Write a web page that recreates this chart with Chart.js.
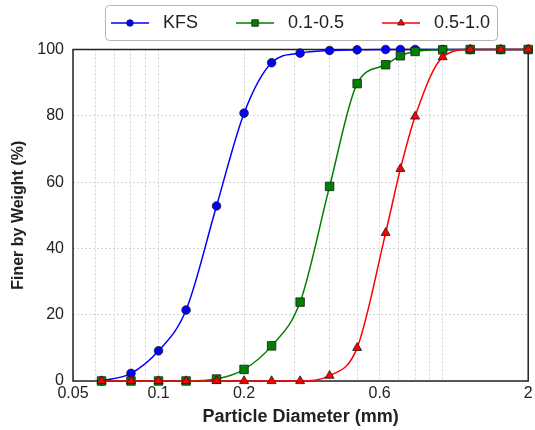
<!DOCTYPE html>
<html>
<head>
<meta charset="utf-8">
<script src="https://cdn.jsdelivr.net/npm/chart.js@4/dist/chart.umd.min.js"></script>
<style>
html, body { margin: 0; padding: 0; background: #ffffff; }
#wrap { width: 535px; height: 430px; position: relative; }
</style>
</head>
<body>
<div id="wrap"><canvas id="c"></canvas></div>
<script>
// ---- data ----
const sieveSizes   = [0.063, 0.08, 0.1, 0.125, 0.16, 0.2, 0.25, 0.315, 0.4, 0.5, 0.63, 0.71, 0.8, 1.0, 1.25, 1.6, 2.0];
const kfsValues    = [0, 2.3, 9.1, 21.4, 52.8, 80.8, 96.0, 98.9, 99.7, 99.9, 100, 100, 100, 100, 100, 100, 100];
const fineValues   = [0, 0, 0, 0, 0.6, 3.5, 10.6, 23.8, 58.7, 89.7, 95.4, 98.1, 99.4, 99.9, 100, 100, 100];
const coarseValues = [0, 0, 0, 0, 0, 0, 0, 0, 1.6, 10.0, 44.7, 64.0, 79.8, 97.7, 100, 100, 100];
const seriesNames  = ['KFS', '0.1-0.5', '0.5-1.0'];
const xGridValues  = [0.05, 0.06, 0.07, 0.08, 0.09, 0.1, 0.2, 0.3, 0.4, 0.5, 0.6, 0.7, 0.8, 0.9, 1, 2];
const xTickLabels  = [0.05, 0.1, 0.2, 0.6, 2];
const yTickValues  = [0, 20, 40, 60, 80, 100];

// ---- styles ----
const FONT = "'Liberation Sans', Arial, Helvetica, sans-serif";
Chart.defaults.font.family = FONT;
Chart.defaults.color = '#222222';

const colors = ['#0000ff', '#008000', '#ff0000'];
const styles = ['circle', 'rect', 'triangle'];
const radii  = [4.3, 6, 5.2];
const legendRadii = [3.3, 4.6, 4];
const MARKER_EDGE = '#1a1a1a';

function legendIcon(i) {
  const c = document.createElement('canvas');
  c.width = 71; c.height = 20;
  const g = c.getContext('2d');
  g.strokeStyle = colors[i]; g.lineWidth = 1.5;
  g.beginPath(); g.moveTo(28, 10); g.lineTo(66, 10); g.stroke();
  g.fillStyle = colors[i]; g.strokeStyle = MARKER_EDGE; g.lineWidth = 0.8;
  Chart.helpers.drawPoint(g, { pointStyle: styles[i], radius: legendRadii[i], borderWidth: 0.8, rotation: 0 }, 47, 10);
  return c;
}
const icons = [0, 1, 2].map(legendIcon);

function makeDataset(i, values, order) {
  return {
    label: seriesNames[i],
    data: sieveSizes.map((x, k) => ({ x: x, y: values[k] })),
    borderColor: colors[i],
    backgroundColor: colors[i],
    pointBackgroundColor: colors[i],
    pointBorderColor: MARKER_EDGE,
    pointBorderWidth: 0.8,
    pointStyle: styles[i],
    pointRadius: radii[i],
    pointHoverRadius: radii[i],
    borderWidth: 1.5,
    cubicInterpolationMode: 'monotone',
    clip: false,
    order: order
  };
}

const layoutFix = {
  id: 'layoutFix',
  beforeLayout(chart) {
    const lg = chart.legend;
    if (lg && !lg._fixedHeight) {
      const fit = lg.fit;
      lg.fit = function () { fit.call(this); this.height = 45.5; };
      lg._fixedHeight = true;
    }
  },
  beforeDatasetsDraw(chart) {
    const { ctx, chartArea: a } = chart;
    ctx.save();
    ctx.strokeStyle = '#222222';
    ctx.lineWidth = 1.5;
    ctx.strokeRect(a.left, a.top, a.right - a.left, a.bottom - a.top);
    ctx.restore();
  },
  afterDraw(chart) {
    const lg = chart.legend;
    if (!lg) return;
    const { ctx } = chart;
    const x0 = lg.left + 32.5, x1 = lg.left + 424.5, y0 = lg.top + 1.5, y1 = lg.top + 36.5, r = 4;
    ctx.save();
    ctx.strokeStyle = '#b5b5b5';
    ctx.lineWidth = 1;
    ctx.beginPath();
    ctx.moveTo(x0 + r, y0);
    ctx.lineTo(x1 - r, y0); ctx.arcTo(x1, y0, x1, y0 + r, r);
    ctx.lineTo(x1, y1 - r); ctx.arcTo(x1, y1, x1 - r, y1, r);
    ctx.lineTo(x0 + r, y1); ctx.arcTo(x0, y1, x0, y1 - r, r);
    ctx.lineTo(x0, y0 + r); ctx.arcTo(x0, y0, x0 + r, y0, r);
    ctx.stroke();
    ctx.restore();
  }
};

const gridOpts = { color: '#d4d4d4', lineWidth: 1, drawTicks: false };

new Chart(document.getElementById('c'), {
  type: 'line',
  data: {
    datasets: [
      makeDataset(0, kfsValues, 3),
      makeDataset(1, fineValues, 2),
      makeDataset(2, coarseValues, 1)
    ]
  },
  options: {
    responsive: true,
    maintainAspectRatio: false,
    animation: false,
    devicePixelRatio: 1,
    layout: { padding: { left: 0, right: 4, top: 4, bottom: 0 } },
    plugins: {
      tooltip: { enabled: false },
      legend: {
        position: 'top',
        align: 'start',
        fullSize: false,
        labels: {
          usePointStyle: true,
          pointStyleWidth: 71,
          boxHeight: 18,
          padding: 10,
          color: '#222222',
          font: { size: 18, family: FONT },
          sort: (a, b) => a.datasetIndex - b.datasetIndex,
          generateLabels: (chart) => {
            const items = Chart.defaults.plugins.legend.labels.generateLabels(chart);
            items.forEach(it => { it.pointStyle = icons[it.datasetIndex]; it.lineWidth = 0; });
            return items;
          }
        }
      }
    },
    scales: {
      x: {
        type: 'logarithmic',
        min: 0.05,
        max: 2,
        afterBuildTicks: (s) => { s.ticks = xGridValues.map(v => ({ value: v })); },
        afterFit: (s) => { s.height = 49; s.paddingLeft = 0; s.paddingRight = 0; },
        ticks: {
          autoSkip: false, maxRotation: 0, minRotation: 0, padding: 3,
          color: '#222222', font: { size: 16 },
          callback: (v) => xTickLabels.includes(v) ? String(v) : ''
        },
        grid: gridOpts,
        border: { display: false, dash: [2, 2] },
        title: {
          display: true, text: 'Particle Diameter (mm)', color: '#222222',
          font: { size: 18, weight: 'bold' }, padding: { top: 0, bottom: 2.5 }
        }
      },
      y: {
        type: 'linear',
        min: 0,
        max: 100,
        afterBuildTicks: (s) => { s.ticks = yTickValues.map(v => ({ value: v })); },
        afterFit: (s) => { s.width = 73; s.paddingTop = 0; s.paddingBottom = 0; },
        ticks: { padding: 9, color: '#222222', font: { size: 16 } },
        grid: gridOpts,
        border: { display: false, dash: [2, 2] },
        title: {
          display: true, text: 'Finer by Weight (%)', color: '#222222',
          font: { size: 16, weight: 'bold' }, padding: { top: 9, bottom: 0 }
        }
      }
    }
  },
  plugins: [layoutFix]
});
</script>
</body>
</html>
